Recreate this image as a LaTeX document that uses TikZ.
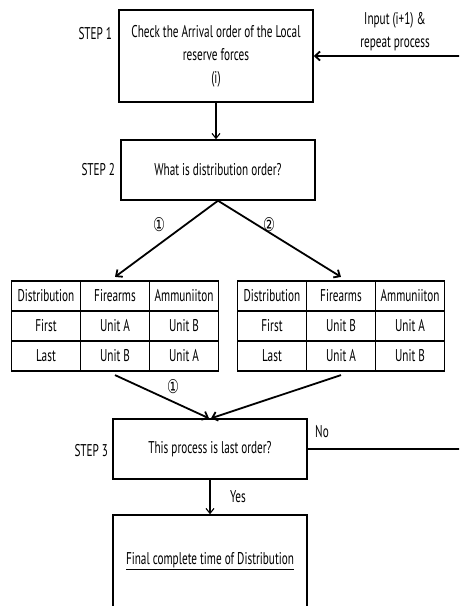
\documentclass[tikz,border=0pt]{standalone}
\usepackage{fontspec}
\setmainfont[FakeStretch=0.66]{PT Sans}
\newfontfamily\circfont[FakeStretch=0.7]{DejaVu Sans}
\usetikzlibrary{calc,matrix,arrows.meta}
\tikzset{
	stepbox/.style={draw, line width=1.4pt, minimum width=194pt, align=center, inner sep=0pt},
	steplabel/.style={anchor=east, inner sep=0pt},
	cell/.style={draw, line width=1.1pt, minimum width=69pt, minimum height=30pt, inner sep=0pt, anchor=center},
	ordertable/.style={matrix of nodes, nodes={cell}, column sep=-1.1pt, row sep=-1.1pt},
	ordermark/.style={font=\circfont\fontsize{19}{19}\selectfont, inner sep=0pt},
	thickflow/.style={line width=1.8pt, -{Straight Barb[length=5pt,width=9pt]}},
	thinflow/.style={line width=1.1pt, -{Straight Barb[length=5pt,width=8pt]}}
}

\begin{document}
\begin{tikzpicture}[x=1pt, y=-1pt, font=\fontsize{17}{23}\selectfont]
	\clip (0,0) rectangle (459,606);

	% steps
	\node[stepbox, minimum height=92pt] (s1) at (216,56) {Check the Arrival order of the Local\\reserve forces\\(i)};
	\node[stepbox, minimum height=60pt] (s2) at (218,170) {What is distribution order?};
	\node[stepbox, minimum height=60pt] (s3) at (210,449) {This process is last order?};
	\node[stepbox, minimum height=92pt] (fin) at (210,561) {\underline{Final complete time of Distribution}};

	\node[steplabel] at ($(s1.west)+(-6,-22)$) {STEP 1};
	\node[steplabel] at ($(s2.west)+(-5,0)$) {STEP 2};
	\node[steplabel] at ($(s3.west)+(-4,2)$) {STEP 3};

	% the two orders
	\matrix[ordertable] (t1) at (115,326) {
		Distribution & Firearms & Ammuniiton \\
		First & Unit A & Unit B \\
		Last & Unit B & Unit A \\
	};
	\matrix[ordertable] (t2) at (341,326) {
		Distribution & Firearms & Ammuniiton \\
		First & Unit B & Unit A \\
		Last & Unit A & Unit B \\
	};

	\coordinate (loop) at (463,0);
	\node[align=center] (inp) at (395,32) {Input (i+1) \&\\repeat process};

	\draw[thinflow] (s1.south) -- (s1.south |- s2.north);
	\draw[thickflow] (s2.south) -- (t1.north);
	\draw[thickflow] (s2.south) -- (t2.north);
	\draw[thickflow] (t1.south) -- ($(s3.north)+(-1,0)$);
	\draw[thickflow] (t2.south) -- ($(s3.north)+(1,0)$);
	\draw[thickflow] (s3.east) -- (s3.east -| loop) |- (s1.east);
	\draw[thinflow] (s3.south) -- (fin.north);

	\node[ordermark] at (159,225) {①};
	\node[ordermark] at (269,225) {②};
	\node[ordermark] at (173,387) {①};
	\node (no) at (322,432) {No};
	\node (yes) at (238,497) {Yes};
\end{tikzpicture}
\end{document}
